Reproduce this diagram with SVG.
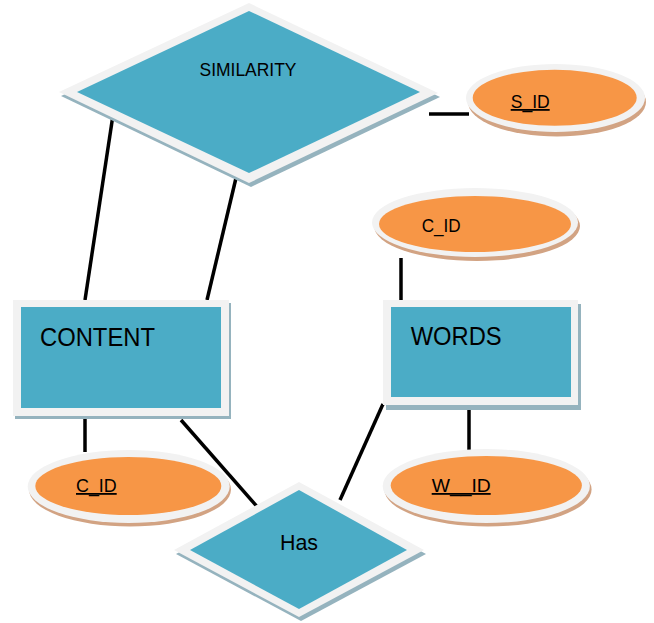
<svg xmlns="http://www.w3.org/2000/svg" width="654" height="623" viewBox="0 0 654 623">
<style>
.bd{fill:#f2f2f2}
.tl{fill:#4bacc6}
.ts{fill:#95b3be}
.or{fill:#f79646}
.os{fill:#d2a383}
.ln{stroke:#000;stroke-width:3.5;fill:none}
text{font-family:"Liberation Sans",Arial,sans-serif;fill:#000}
.u{text-decoration:underline}
</style>
<rect width="654" height="623" fill="#fff"/>
<g id="connectors">
<line class="ln" x1="113" y1="115" x2="85" y2="300"/>
<line class="ln" x1="236" y1="178" x2="207" y2="300"/>
<line class="ln" x1="429" y1="114" x2="469" y2="114"/>
<line class="ln" x1="401" y1="258" x2="401" y2="300"/>
<line class="ln" x1="85" y1="418" x2="85" y2="452"/>
<line class="ln" x1="181" y1="420" x2="260" y2="510"/>
<line class="ln" x1="383" y1="404" x2="340" y2="500"/>
<line class="ln" x1="469" y1="408" x2="469" y2="452"/>
</g>
<g id="similarity">
<polygon class="ts" points="61,96 251,7 440,97 251,187"/>
<polygon class="bd" points="59,92 249,3 438,93 249,183"/>
<polygon class="tl" points="77,92 249,11 420,92 249,173"/>
<text x="248" y="76" font-size="18" text-anchor="middle" textLength="97" lengthAdjust="spacingAndGlyphs">SIMILARITY</text>
</g>
<g id="s_id">
<ellipse class="os" cx="557" cy="102" rx="89" ry="34.5"/>
<ellipse class="bd" cx="555.5" cy="98" rx="89.5" ry="34"/>
<ellipse class="or" cx="554.7" cy="97.8" rx="82" ry="28"/>
<text class="u" x="510.7" y="108" font-size="18" textLength="39" lengthAdjust="spacingAndGlyphs">S_ID</text>
</g>
<g id="c_id_top">
<ellipse class="os" cx="477" cy="226" rx="103" ry="35"/>
<ellipse class="bd" cx="475" cy="222.5" rx="103" ry="34.5"/>
<ellipse class="or" cx="475" cy="224" rx="96" ry="28"/>
<text x="421.7" y="232" font-size="18" textLength="39" lengthAdjust="spacingAndGlyphs">C_ID</text>
</g>
<g id="content">
<rect class="ts" x="15" y="303" width="216" height="116"/>
<rect class="bd" x="13" y="300" width="216" height="116"/>
<rect class="tl" x="21" y="307" width="200" height="101"/>
<text x="40" y="346" font-size="25" textLength="115" lengthAdjust="spacingAndGlyphs">CONTENT</text>
</g>
<g id="words">
<rect class="ts" x="386" y="304" width="195" height="106"/>
<rect class="bd" x="383" y="300" width="195" height="105"/>
<rect class="tl" x="391" y="307" width="180" height="90"/>
<text x="410.7" y="345" font-size="25" textLength="91" lengthAdjust="spacingAndGlyphs">WORDS</text>
</g>
<g id="c_id_bottom">
<ellipse class="os" cx="130" cy="489.5" rx="101" ry="37"/>
<ellipse class="bd" cx="128.7" cy="486.5" rx="101" ry="36.5"/>
<ellipse class="or" cx="128.3" cy="486" rx="93" ry="29"/>
<text class="u" x="76" y="492" font-size="18" textLength="40.7" lengthAdjust="spacingAndGlyphs">C_ID</text>
</g>
<g id="w_id">
<ellipse class="os" cx="488" cy="489.5" rx="103.6" ry="37"/>
<ellipse class="bd" cx="486.3" cy="486" rx="103.6" ry="37"/>
<ellipse class="or" cx="486.3" cy="485.5" rx="95.6" ry="29.5"/>
<text class="u" x="431.7" y="492" font-size="18" textLength="59" lengthAdjust="spacingAndGlyphs">W__ID</text>
</g>
<g id="has">
<polygon class="ts" points="176,554 301,486 426,554 301,621"/>
<polygon class="bd" points="174,550 299,482 424,550 299,617"/>
<polygon class="tl" points="190,550 299,490 407,550 299,609"/>
<text x="299" y="550" font-size="22" text-anchor="middle" textLength="38" lengthAdjust="spacingAndGlyphs">Has</text>
</g>
</svg>
